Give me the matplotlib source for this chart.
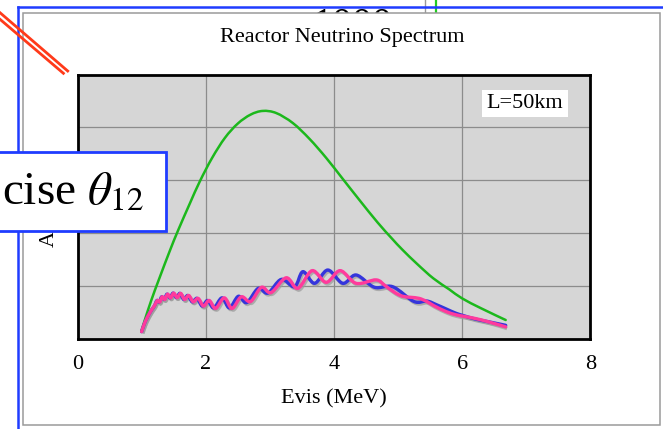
import numpy as np
import matplotlib
matplotlib.use('Agg')
import matplotlib.pyplot as plt
from matplotlib.path import Path
from matplotlib.patches import PathPatch, Rectangle
from matplotlib.lines import Line2D
from matplotlib.transforms import offset_copy

# ---- data (Evis in MeV, arbitrary units) ----
green_e = [1.00, 1.05, 1.15, 1.28, 1.44, 1.57, 1.75, 1.91, 2.10, 2.30, 2.50, 2.70,
           2.89, 3.10, 3.36, 3.62, 3.88, 4.14, 4.40, 4.68, 4.90, 5.07, 5.30, 5.55,
           5.80, 6.00, 6.30, 6.68]
green_y = [0.15, 0.35, 0.72, 1.15, 1.66, 2.05, 2.55, 2.98, 3.42, 3.80, 4.07, 4.24,
           4.31, 4.27, 4.08, 3.78, 3.42, 3.02, 2.62, 2.20, 1.90, 1.68, 1.41, 1.14,
           0.93, 0.76, 0.57, 0.35]

blue_e = [1.00, 1.04, 1.08, 1.12, 1.16, 1.20, 1.239, 1.275, 1.313, 1.354, 1.396,
          1.443, 1.491, 1.543, 1.598, 1.657, 1.720, 1.790, 1.865, 1.945, 2.030,
          2.125, 2.255, 2.370, 2.510, 2.640, 2.820, 2.970, 3.180, 3.386, 3.516,
          3.698, 3.905, 4.139, 4.347, 4.632, 4.918, 5.250, 5.450, 5.600, 5.750,
          5.900, 6.030, 6.200, 6.400, 6.680]
blue_y = [0.13, 0.27, 0.38, 0.47, 0.55, 0.62, 0.72, 0.69, 0.79, 0.74, 0.84,
          0.77, 0.86, 0.775, 0.855, 0.74, 0.815, 0.695, 0.76, 0.615, 0.72,
          0.58, 0.77, 0.58, 0.80, 0.68, 0.95, 0.86, 1.12, 0.98, 1.266,
          1.045, 1.297, 1.045, 1.203, 0.97, 0.98, 0.70, 0.71, 0.64, 0.56,
          0.48, 0.43, 0.37, 0.32, 0.25]

pink_e = [1.00, 1.04, 1.08, 1.12, 1.16, 1.20, 1.247, 1.283, 1.321, 1.362, 1.405,
          1.452, 1.501, 1.554, 1.610, 1.670, 1.735, 1.805, 1.882, 1.965, 2.055,
          2.154, 2.290, 2.410, 2.555, 2.700, 2.870, 3.020, 3.256, 3.438, 3.661,
          3.880, 4.098, 4.347, 4.658, 4.800, 4.950, 5.070, 5.200, 5.330, 5.450,
          5.560, 5.750, 5.900, 6.030, 6.200, 6.400, 6.680]
pink_y = [0.13, 0.27, 0.38, 0.47, 0.55, 0.62, 0.72, 0.69, 0.79, 0.74, 0.84,
          0.77, 0.86, 0.775, 0.855, 0.74, 0.815, 0.695, 0.76, 0.615, 0.72,
          0.57, 0.77, 0.57, 0.79, 0.70, 0.97, 0.87, 1.15, 0.95, 1.285,
          1.064, 1.285, 1.045, 1.11, 1.00, 0.87, 0.80, 0.78, 0.76, 0.70,
          0.62, 0.51, 0.45, 0.42, 0.38, 0.32, 0.22]

xticks = [0, 2, 4, 6, 8]
xtick_labels = ['0', '2', '4', '6', '8']
ygrid = [1, 2, 3, 4]

W, H = 663, 429


def fx(px):
    return px / W


def fy(py):
    return 1 - py / H


def smooth_path(xs, ys):
    # Catmull-Rom through the read points, drawn as bezier segments
    pts = np.column_stack([xs, ys])
    ext = np.vstack([pts[0], pts, pts[-1]])
    verts = [pts[0]]
    codes = [Path.MOVETO]
    for i in range(len(pts) - 1):
        p0, p1, p2, p3 = ext[i], ext[i + 1], ext[i + 2], ext[i + 3]
        verts += [p1 + (p2 - p0) / 6, p2 - (p3 - p1) / 6, p2]
        codes += [Path.CURVE4] * 3
    return Path(verts, codes)


plt.rcParams['font.family'] = ['Liberation Serif', 'DejaVu Serif']
plt.rcParams['mathtext.fontset'] = 'stix'

fig = plt.figure(figsize=(6.63, 4.29), dpi=100, facecolor='white')

# slide clutter behind the chart panel
fig.text(fx(312), fy(35), '1000', fontsize=29, color='black', zorder=0.5)
fig.add_artist(Line2D([fx(425), fx(425)], [fy(0), fy(13)], color='#9a9a9a', lw=1, zorder=0.6))
fig.add_artist(Line2D([fx(435.5), fx(435.5)], [fy(0), fy(13)], color='#22cc22', lw=1.6, zorder=0.6))
fig.add_artist(Line2D([fx(18), fx(663)], [fy(6.5), fy(6.5)], color='#1f3cff', lw=1.8, zorder=1))
fig.add_artist(Line2D([fx(18), fx(18)], [fy(6.5), fy(429)], color='#1f3cff', lw=1.8, zorder=1))

# white chart panel
fig.add_artist(Rectangle((fx(23), fy(425)), fx(659.5) - fx(23), fy(12.5) - fy(425),
                         facecolor='white', edgecolor='#9a9a9a', lw=1.1, zorder=2))

ax = fig.add_axes([77.5 / W, (H - 338.5) / H, 512.8 / W, 264 / H])
ax.set_zorder(3)
ax.set_facecolor('#d6d6d6')
ax.set_xlim(0, 8)
ax.set_ylim(0, 5)
ax.set_xticks(xticks)
ax.set_xticklabels(xtick_labels)
ax.set_yticks(ygrid)
ax.set_yticklabels([])
ax.tick_params(length=0, labelsize=16, pad=12)
ax.grid(True, color='#8c8c8c', lw=0.9)
ax.set_axisbelow(True)
for sp in ax.spines.values():
    sp.set_linewidth(2)
    sp.set_color('black')

ax.set_xlabel('Evis (MeV)', fontsize=16)
ax.xaxis.label.set_va('baseline')
ax.xaxis.set_label_coords(0.5, (338.5 - 403.5) / 264)

# curves
shadow_tr = offset_copy(ax.transData, fig=fig, x=1.3, y=-1.8, units='dots')
ax.add_patch(PathPatch(smooth_path(green_e, green_y), fill=False, edgecolor='#1cb81c',
                       lw=1.8, capstyle='round', zorder=3))
for xs, ys in [(blue_e, blue_y), (pink_e, pink_y)]:
    ax.add_patch(PathPatch(smooth_path(xs, ys), fill=False, edgecolor='#9a9a9a', lw=2.3,
                           alpha=0.7, transform=shadow_tr, zorder=3.5))
for xs, ys, col, z in [(blue_e, blue_y, '#3535dc', 4), (pink_e, pink_y, '#ff3a9c', 4.5)]:
    ax.add_patch(PathPatch(smooth_path(xs, ys), fill=False, edgecolor=col,
                           lw=2.4, capstyle='round', joinstyle='round', zorder=z))

# L=50km label
ax.add_patch(Rectangle(((482 - 77.5) / 512.8, (338.5 - 117) / 264), 86 / 512.8, 27 / 264,
                       transform=ax.transAxes, facecolor='white', edgecolor='none', zorder=5))
ax.text((525 - 77.5) / 512.8, (338.5 - 108.3) / 264, 'L=50km', transform=ax.transAxes,
        ha='center', va='baseline', fontsize=16, zorder=6)

fig.text(fx(342), fy(42), 'Reactor Neutrino Spectrum', ha='center', va='baseline',
         fontsize=16, zorder=4)
# only the first letter of the y label shows below the overlay box
fig.text(fx(49.5), fy(247), 'A', rotation=90, ha='center', va='bottom',
         fontsize=16, zorder=3.5)

# red double slash over the slide border
fig.add_artist(Line2D([fx(0), fx(67.7)], [fy(12.7), fy(71)], color='#ff3a1a', lw=2, zorder=4))
fig.add_artist(Line2D([fx(0), fx(63.4)], [fy(19.3), fy(73.3)], color='#ff3a1a', lw=2, zorder=4))

# overlay box from the slide
fig.add_artist(Rectangle((fx(-10), fy(230.7)), fx(165.7) - fx(-10), fy(151.7) - fy(230.7),
                         facecolor='white', edgecolor='#1f3cff', lw=2, zorder=5))
fig.text(fx(2), fy(205), r'cise $\theta_{12}$', ha='left', va='baseline',
         fontsize=34, zorder=6)

fig.savefig('out.png', dpi=100)
